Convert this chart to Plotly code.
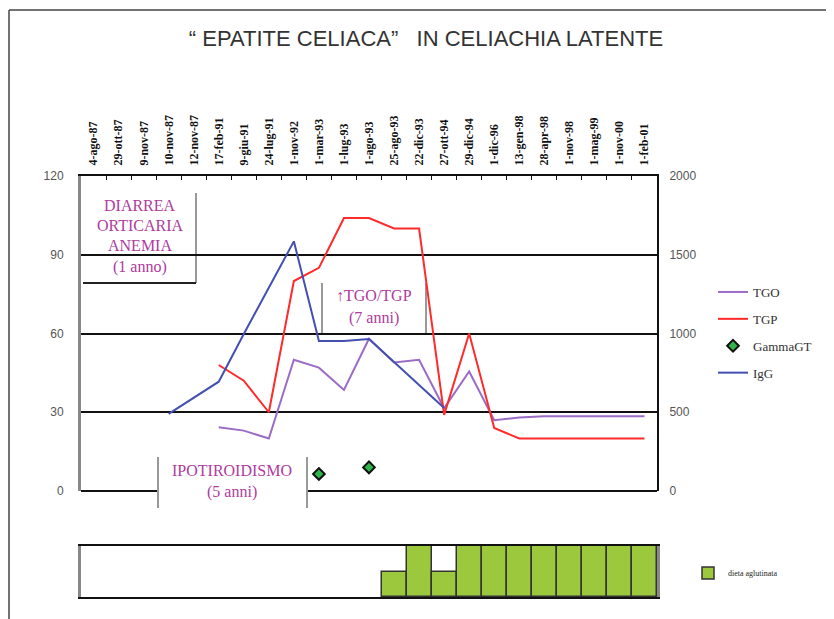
import plotly.graph_objects as go

categories = ["4-ago-87", "29-ott-87", "9-nov-87", "10-nov-87", "12-nov-87", "17-feb-91",
              "9-giu-91", "24-lug-91", "1-nov-92", "1-mar-93", "1-lug-93", "1-ago-93",
              "25-ago-93", "22-dic-93", "27-ott-94", "29-dic-94", "1-dic-96", "13-gen-98",
              "28-apr-98", "1-nov-98", "1-mag-99", "1-nov-00", "1-feb-01"]

tgo = [None, None, None, None, None, 24.3, 23, 20, 50, 47, 38.5, 58,
       49, 50, 31.5, 45.5, 27, 28, 28.5, 28.5, 28.5, 28.5, 28.5]
tgp = [None, None, None, None, None, 48, 42, 30, 80, 85, 104, 104,
       100, 100, 29, 60, 24, 20, 20, 20, 20, 20, 20]
gammagt = [None, None, None, None, None, None, None, None, None, 6.5, None, 9,
           None, None, None, None, None, None, None, None, None, None, None]
igg = [None, None, None, 490, 590, 694, 997, 1295, 1585, 952, 952, 965,
       819, 679, 527, None, None, None, None, None, None, None, None]
dieta = [None, None, None, None, None, None, None, None, None, None, None, None,
         1, 2, 1, 2, 2, 2, 2, 2, 2, 2, 2]

left_ticks = [0, 30, 60, 90, 120]
right_ticks = [0, 500, 1000, 1500, 2000]

OFF = 8  # page body margin
W, H = 834 - OFF, 619 - OFF
L, R, T, B = 81, 657, 176, 597  # plot area in screen pixels


def px(x):
    return (x - L) / (R - L)


def py(y):
    return (B - y) / (B - T)


MAG = "#b03a9e"
SERIF = "Liberation Serif, Times New Roman, serif"
XR = [-0.5, len(categories) - 0.5]

fig = go.Figure()
fig.add_trace(go.Scatter(x=categories, y=tgo, name="TGO", mode="lines",
                         line=dict(color="#9b6cc6", width=2), legendgroup="a",
                         xaxis="x", yaxis="y"))
fig.add_trace(go.Scatter(x=categories, y=tgp, name="TGP", mode="lines",
                         line=dict(color="#ff2b2b", width=2), legendgroup="b",
                         xaxis="x", yaxis="y"))
fig.add_trace(go.Scatter(x=categories, y=gammagt, name="GammaGT", mode="markers",
                         marker=dict(symbol="diamond", size=9, color="#2fb54a",
                                     line=dict(color="#111", width=2)),
                         legendgroup="c", xaxis="x", yaxis="y"))
fig.add_trace(go.Scatter(x=categories, y=igg, name="IgG", mode="lines",
                         line=dict(color="#4450b0", width=2), legendgroup="d",
                         xaxis="x", yaxis="y2"))
fig.add_trace(go.Bar(x=categories, y=dieta, name="dieta aglutinata",
                     marker=dict(color="#9bc83c", line=dict(color="#333", width=1.5)),
                     xaxis="x2", yaxis="y3", legend="legend2", width=1))

shapes = []
# outer frame
shapes.append(dict(type="line", xref="paper", yref="paper", x0=px(9), x1=px(834),
                   y0=py(10), y1=py(10), line=dict(color="#444", width=1.5)))
shapes.append(dict(type="line", xref="paper", yref="paper", x0=px(9), x1=px(9),
                   y0=py(10), y1=py(619), line=dict(color="#444", width=1.5)))
# bottom line of main plot
shapes.append(dict(type="line", xref="paper", yref="paper", x0=px(81), x1=px(657),
                   y0=py(491), y1=py(491), line=dict(color="#111", width=2), layer="between"))
# DIARREA box
shapes.append(dict(type="rect", xref="paper", yref="paper", x0=px(83), x1=px(196),
                   y0=py(283), y1=py(193), fillcolor="white", line=dict(width=0), layer="between"))
shapes.append(dict(type="line", xref="paper", yref="paper", x0=px(196), x1=px(196),
                   y0=py(283), y1=py(193), line=dict(color="#999", width=2), layer="between"))
shapes.append(dict(type="line", xref="paper", yref="paper", x0=px(83), x1=px(196),
                   y0=py(283), y1=py(283), line=dict(color="#222", width=2), layer="between"))
# TGO/TGP box
shapes.append(dict(type="rect", xref="paper", yref="paper", x0=px(322), x1=px(426),
                   y0=py(332), y1=py(283), fillcolor="white", line=dict(width=0), layer="between"))
for xx in (322, 426):
    shapes.append(dict(type="line", xref="paper", yref="paper", x0=px(xx), x1=px(xx),
                       y0=py(333), y1=py(283), line=dict(color="#999", width=2), layer="between"))
# IPOTIROIDISMO box
shapes.append(dict(type="rect", xref="paper", yref="paper", x0=px(158), x1=px(307),
                   y0=py(508), y1=py(457), fillcolor="white", line=dict(width=0), layer="between"))
for xx in (158, 307):
    shapes.append(dict(type="line", xref="paper", yref="paper", x0=px(xx), x1=px(xx),
                       y0=py(508), y1=py(457), line=dict(color="#999", width=2), layer="between"))

annotations = []


def note(text, x, y, size=16):
    annotations.append(dict(text=text, xref="paper", yref="paper", x=px(x), y=py(y),
                            xanchor="center", yanchor="middle", showarrow=False,
                            font=dict(family=SERIF, size=size, color=MAG)))


note("DIARREA", 140, 205)
note("ORTICARIA", 140, 225)
note("ANEMIA", 140, 245)
note("(1 anno)", 140, 267)
note("↑TGO/TGP", 374, 295)
note("(7 anni)", 374, 318)
note("IPOTIROIDISMO", 232, 470)
note("(5 anni)", 232, 492)

tickfont_axis = dict(family="Liberation Sans, sans-serif", size=12, color="#555")

fig.update_layout(
    width=W, height=H,
    margin=dict(l=L - OFF, r=W - (R - OFF), t=T - OFF, b=H - (B - OFF)),
    paper_bgcolor="white", plot_bgcolor="white",
    title=dict(text="\u201c EPATITE CELIACA\u201d\u00a0\u00a0 IN CELIACHIA LATENTE",
               x=px(426), xref="paper", xanchor="center",
               y=1 - (38 - OFF) / H, yref="container", yanchor="middle",
               font=dict(family="Liberation Sans, Arial, sans-serif",
                         size=22, color="#333")),
    showlegend=True,
    bargap=0,
    xaxis=dict(type="category", categoryorder="array", categoryarray=categories,
               range=XR, autorange=False,
               side="top", anchor="y", domain=[0, 1], tickangle=-90,
               tickfont=dict(family=SERIF, size=12, color="#111", weight="bold"),
               ticks="inside", ticklen=4, tickcolor="#111", tickson="boundaries",
               showline=True, linecolor="#111", linewidth=2, showgrid=False,
               ticklabelstandoff=6, fixedrange=True),
    yaxis=dict(range=[0, 120], tickvals=left_ticks, domain=[py(491), 1], anchor="x",
               showgrid=True, gridcolor="#111", gridwidth=2, zeroline=False,
               showline=True, linecolor="#888", linewidth=3,
               tickfont=tickfont_axis, ticks="", ticklabelstandoff=12),
    yaxis2=dict(range=[0, 2000], tickvals=right_ticks, overlaying="y", side="right",
                anchor="x", showgrid=False, zeroline=False,
                showline=True, linecolor="#111", linewidth=2,
                tickfont=tickfont_axis, ticks="", ticklabelstandoff=8),
    xaxis2=dict(type="category", categoryorder="array", categoryarray=categories,
                range=XR, autorange=False,
                anchor="y3", domain=[0, 1], showticklabels=False, ticks="",
                showline=True, mirror=True, linecolor="#111", linewidth=2, showgrid=False),
    yaxis3=dict(range=[0, 2], domain=[0, py(546)], anchor="x2", showticklabels=False,
                ticks="", showgrid=False, zeroline=False,
                showline=True, mirror=True, linecolor="#888", linewidth=3),
    legend=dict(x=px(713), y=py(277), xanchor="left", yanchor="top",
                font=dict(family=SERIF, size=13, color="#333"),
                tracegroupgap=7, bgcolor="rgba(0,0,0,0)"),
    legend2=dict(x=px(688), y=py(573), xanchor="left", yanchor="middle",
                 font=dict(family=SERIF, size=8, color="#222"), bgcolor="rgba(0,0,0,0)"),
    shapes=shapes,
    annotations=annotations,
)

fig.write_html("out.html")
